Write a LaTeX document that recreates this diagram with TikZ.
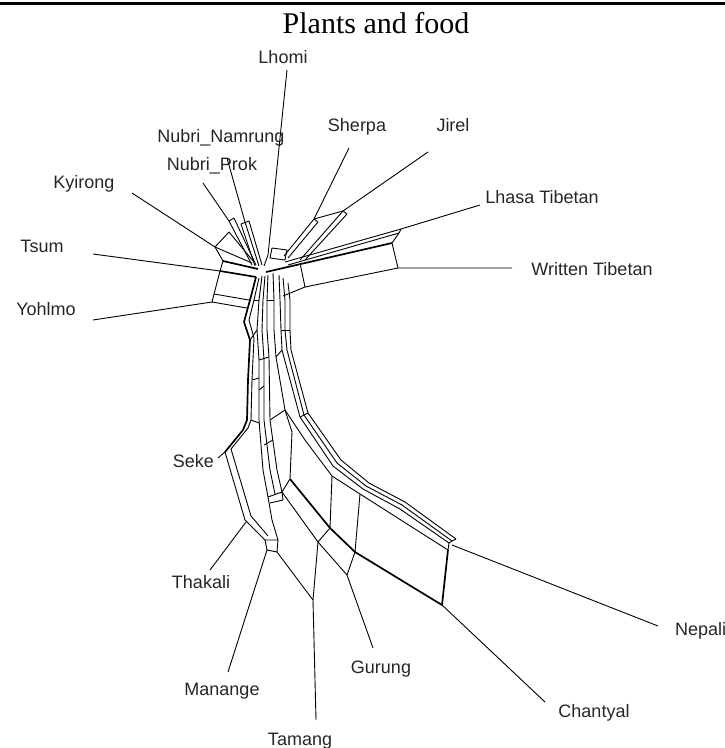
\documentclass[tikz,border=0pt]{standalone}
\usepackage{fontspec}
\setmainfont{Liberation Serif}
\newfontfamily\labfont{Liberation Sans}
\begin{document}
\begin{tikzpicture}[x=1pt,y=-1pt,
  net/.style={line width=0.9pt,line join=round},
  thk/.style={line width=1.7pt,line join=round},
  lab/.style={font=\labfont\fontsize{18}{20}\selectfont,inner sep=0pt,text=black!85}]
\useasboundingbox (0,0) rectangle (725,748);
\draw[line width=3pt] (0,3) -- (725,3);
\node[font=\fontsize{30}{32}\selectfont,anchor=base,inner sep=0pt] (title) at (376,33) {Plants and food};
% labels
\node[lab] (lhomi) at (283,57) {Lhomi};
\node[lab] (nn) at (221,138) {Nubri\_Namrung};
\node[lab] (sherpa) at (357,127) {Sherpa};
\node[lab] (jirel) at (453,125) {Jirel};
\node[lab] (np) at (212,166) {Nubri\_Prok};
\node[lab] (kyi) at (84,184) {Kyirong};
\node[lab] (lhasa) at (542,197) {Lhasa Tibetan};
\node[lab] (tsum) at (42,246) {Tsum};
\node[lab] (wt) at (592,269) {Written Tibetan};
\node[lab] (yoh) at (46,309) {Yohlmo};
\node[lab,anchor=east] (seke) at (214,461) {Seke};
\node[lab] (thak) at (201,582) {Thakali};
\node[lab,anchor=west] (nep) at (675,631) {Nepali};
\node[lab] (chan) at (594,713) {Chantyal};
\node[lab] (gur) at (381,669) {Gurung};
\node[lab] (man) at (222,691) {Manange};
\node[lab] (tam) at (300,741) {Tamang};
% leaf ends
\coordinate (eLhomi) at (287,70);
\coordinate (eNN) at (227,158);
\coordinate (eNP) at (203,183);
\coordinate (eKyi) at (132,193);
\coordinate (eTsum) at (93,254);
\coordinate (eYoh) at (93,320);
\coordinate (eSherpa) at (349,148);
\coordinate (eJirel) at (428,152);
\coordinate (eLhasa) at (480,205);
\coordinate (eWT) at (512,268);
\coordinate (eSeke) at (218,458);
\coordinate (eThak) at (210,570);
\coordinate (eMan) at (228,672);
\coordinate (eTam) at (316,720);
\coordinate (eGur) at (373,648);
\coordinate (eChan) at (545,702);
\coordinate (eNep) at (658,626);
% ---- top-left fan
\draw[net] (eLhomi) -- (268,255) -- (264,266);
\draw[net] (eNN) -- (245,222) -- (259,266);
\draw[net] (241,224) -- (255,266);
\draw[net] (249,221) -- (262,265);
\draw[net] (241,224) -- (249,221);
\draw[net] (eNP) -- (229,221) -- (252,265);
\draw[net] (234,218) -- (256,265);
\draw[net] (229,221) -- (234,218);
\draw[net] (eKyi) -- (215,247) -- (252,263);
\draw[net] (215,247) -- (223,261);
\draw[net] (215,247) -- (229,232) -- (254,262);
% Tsum / Yohlmo
\draw[net] (eTsum) -- (220,271);
\draw[thk] (223,261) -- (258,269);
\draw[thk] (220,271) -- (256,277);
\draw[net] (223,261) -- (220,271) -- (212,302);
\draw[net] (eYoh) -- (212,302) -- (247,308);
\draw[net] (214,294) -- (249,300);
% ---- top-right fan
\draw[net] (eSherpa) -- (314,219) -- (284,256);
\draw[net] (eJirel) -- (343,211);
\draw[net] (314,219) -- (343,211);
\draw[net] (343,211) -- (300,260);
\draw[net] (347,214) -- (305,260);
\draw[net] (343,211) -- (347,214);
\draw[net] (318,222) -- (288,258);
\draw[net] (314,219) -- (318,222);
\draw[net] (eLhasa) -- (401,229);
\draw[net] (401,229) -- (285,262);
\draw[net] (399,233) -- (288,265);
\draw[net] (401,229) -- (399,233) -- (392,243);
\draw[thk] (392,243) -- (266,272);
\draw[net] (392,243) -- (398,268) -- (eWT);
\draw[net] (398,268) -- (305,287);
\draw[net] (300,263) -- (305,287) -- (283,296);
\draw[net] (272,248) -- (287,250) -- (285,260) -- (270,258) -- cycle;
% ---- trunk
\draw[thk] (256,277) -- (250,300) -- (244,322) -- (250,340) -- (248,380) -- (247,420) -- (243,430);
\draw[net] (259,278) -- (254,300) -- (249,320) -- (254,338) -- (252,380) -- (251,420) -- (248,428);
\draw[net] (262,276) -- (259,300) -- (257,330) -- (259,360) -- (259,420) -- (263,470) -- (268,497);
\draw[net] (265,276) -- (263,300) -- (262,330) -- (264,360) -- (264,420) -- (270,470) -- (275,494);
\draw[net] (268,275) -- (267,300) -- (267,330) -- (269,357) -- (270,420) -- (277,470) -- (282,492);
\draw[net] (273,273) -- (274,300) -- (274,330) -- (276,357) -- (285,410) -- (305,440) -- (332,476) -- (360,494) -- (448,550);
\draw[net] (285,410) -- (292,432) -- (290,479);
\draw[net] (279,275) -- (280,300) -- (281,330) -- (282,350) -- (300,417) -- (333,466) -- (363,489) -- (400,509) -- (449,543);
\draw[net] (283,278) -- (285,300) -- (285,330) -- (287,350) -- (304,415) -- (337,463) -- (366,486) -- (402,505) -- (452,541);
\draw[net] (288,283) -- (290,300) -- (290,330) -- (291,350) -- (308,413) -- (341,460) -- (369,483) -- (405,502) -- (456,539);
% trunk rungs
\draw[net] (250,340) -- (257,330);
\draw[net] (259,360) -- (269,357);
\draw[net] (252,380) -- (259,378);
\draw[net] (276,357) -- (282,350);
\draw[net] (270,420) -- (285,410);
\draw[net] (251,420) -- (259,423);
\draw[net] (267,300) -- (274,300);
\draw[net] (281,330) -- (290,330);
\draw[net] (300,417) -- (308,413);
\draw[net] (254,300) -- (259,300);
\draw[net] (259,390) -- (264,386);
\draw[net] (264,445) -- (273,440);
% Nepali / Chantyal arm
\draw[net] (448,550) -- (449,543) -- (452,541) -- (456,539);
\draw[net] (452,545) -- (eNep);
\draw[thk] (290,479) -- (330,528) -- (355,552) -- (442,605);
\draw[net] (332,476) -- (330,528);
\draw[net] (360,494) -- (355,552);
\draw[thk] (448,550) -- (442,605);
\draw[net] (442,605) -- (eChan);
\draw[net] (282,492) -- (318,542) -- (347,575);
\draw[net] (290,479) -- (282,492);
\draw[net] (330,528) -- (318,542);
\draw[net] (355,552) -- (347,575);
\draw[net] (318,542) -- (313,600) -- (eTam);
\draw[net] (277,552) -- (313,600);
\draw[net] (347,575) -- (eGur);
% left cluster
\draw[thk] (243,430) -- (225,452);
\draw[net] (248,428) -- (231,449);
\draw[net] (225,452) -- (245,520) -- (265,540);
\draw[net] (231,449) -- (251,516) -- (268,536);
\draw[net] (268,497) -- (272,520) -- (278,540);
\draw[net] (268,497) -- (282,492) -- (283,500) -- (270,503);
\draw[net] (225,452) -- (eSeke);
\draw[net] (246,522) -- (eThak);
\draw[net] (265,540) -- (267,550) -- (277,552) -- (278,540) -- cycle;
\draw[net] (267,550) -- (eMan);
\end{tikzpicture}
\end{document}
